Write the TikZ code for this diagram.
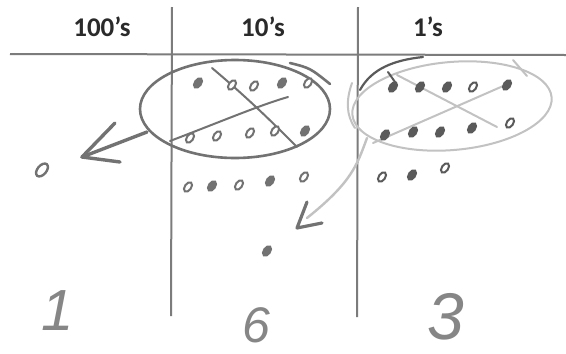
\documentclass[tikz,border=0pt]{standalone}
\usepackage{fontspec}
\newfontfamily\headfont{Carlito}
\newfontfamily\handfont{Liberation Sans}
\definecolor{ink}{HTML}{727272}
\definecolor{gridc}{HTML}{7C7C7C}
\definecolor{pencil}{HTML}{C2C2C2}
\definecolor{darkink}{HTML}{5A5A5A}
\definecolor{headc}{HTML}{2A2A2A}
\definecolor{handc}{HTML}{868686}
\newcommand\hdot[3]{\draw[#3] (#1,#2) ellipse [x radius=3.2pt,y radius=5.4pt,rotate=-35];}
\begin{document}
\begin{tikzpicture}[x=1pt,y=-1pt,
  gridline/.style={draw=gridc,line width=2pt},
  stroke/.style={draw=ink,line width=2.6pt,line cap=round,line join=round},
  pencilline/.style={draw=pencil,line width=2pt,line cap=round},
  head/.style={font=\headfont\bfseries\fontsize{27}{30}\selectfont,text=headc,anchor=base,inner sep=0pt},
  hand/.style={text=handc,anchor=base,inner sep=0pt},
  ring/.style={draw=ink,line width=2pt,fill=white},
  blob/.style={draw=ink,line width=2pt,fill=ink},
  dring/.style={draw=darkink,line width=2pt,fill=white},
  dblob/.style={draw=darkink,line width=2pt,fill=darkink},
]
\useasboundingbox (0,0) rectangle (566,354);
\fill[white] (0,0) rectangle (566,354);
% grid
\draw[gridline] (10,54) -- (566,55);
\draw[gridline] (172,7) -- (171,316);
\draw[gridline] (358,7) -- (357,317);
% headers
\node[head] (h100) at (102,36) {100’s};
\node[head] (h10) at (263,36) {10’s};
\node[head] (h1) at (428,36) {1’s};
% tens group
\draw[stroke] (235,109) ellipse [x radius=95pt,y radius=49pt];
\draw[stroke] (290,63) .. controls (310,68) .. (330,84);
\draw[stroke,line width=2pt] (212,68) .. controls (250,100) and (275,125) .. (297,147);
\draw[stroke,line width=2pt] (170,141) .. controls (220,122) and (260,105) .. (288,97);
\hdot{198}{83}{blob}\hdot{232}{85}{ring}\hdot{254}{86}{ring}\hdot{282}{83}{blob}\hdot{308}{83}{ring}
\hdot{190}{138}{ring}\hdot{217}{136}{ring}\hdot{250}{133}{ring}\hdot{275}{131}{ring}\hdot{305}{131}{blob}
\hdot{188}{187}{ring}\hdot{212}{186}{blob}\hdot{239}{185}{ring}\hdot{270}{181}{blob}\hdot{304}{177}{ring}
\hdot{267}{251}{blob}
% arrow to hundreds
\coordinate (lstart) at (147,132);
\coordinate (ltip) at (82,157);
\draw[stroke,line width=3.4pt] (lstart) -- (ltip);
\draw[stroke,line width=3.4pt] (115,123) -- (ltip) -- (120,162);
\draw[ring,line width=2.4pt] (42,170) ellipse [x radius=4.5pt,y radius=7.5pt,rotate=-40];
% ones group
\draw[pencilline] (452,106) ellipse [x radius=100pt,y radius=44pt,rotate=5];
\draw[pencilline] (352,83) .. controls (346,100) and (346,115) .. (355,128);
\draw[pencilline] (513,60) -- (527,76);
\draw[pencilline] (397,75) -- (497,127);
\draw[pencilline] (373,143) -- (510,83);
\draw[draw=darkink,line width=2.2pt,line cap=round] (360,90) .. controls (372,68) and (395,60) .. (423,57);
\draw[draw=darkink,line width=2pt,line cap=round] (388,72) -- (395,82);
\hdot{393}{87}{dblob}\hdot{420}{87}{dblob}\hdot{447}{87}{dblob}\hdot{473}{87}{dring}\hdot{507}{85}{dblob}
\hdot{385}{135}{dblob}\hdot{413}{132}{dblob}\hdot{440}{132}{dblob}\hdot{472}{128}{dblob}\hdot{510}{123}{dring}
\hdot{382}{177}{dring}\hdot{412}{175}{dblob}\hdot{445}{168}{dring}
% regroup arrow
\coordinate (rstart) at (367,138);
\coordinate (rtip) at (297,228);
\draw[pencilline,line width=2.4pt] (rstart) .. controls (357,165) and (352,182) .. (307,218);
\draw[stroke,line width=3.2pt] (307,202) -- (rtip) -- (322,223);
% results
\node[hand,font=\handfont\itshape\fontsize{58}{60}\selectfont] (r100) at (58,330) {1};
\node[hand,font=\handfont\itshape\fontsize{50}{54}\selectfont] (r10) at (256,342) {6};
\node[hand,font=\handfont\itshape\fontsize{66}{70}\selectfont] (r1) at (446,339) {3};
\end{tikzpicture}
\end{document}
